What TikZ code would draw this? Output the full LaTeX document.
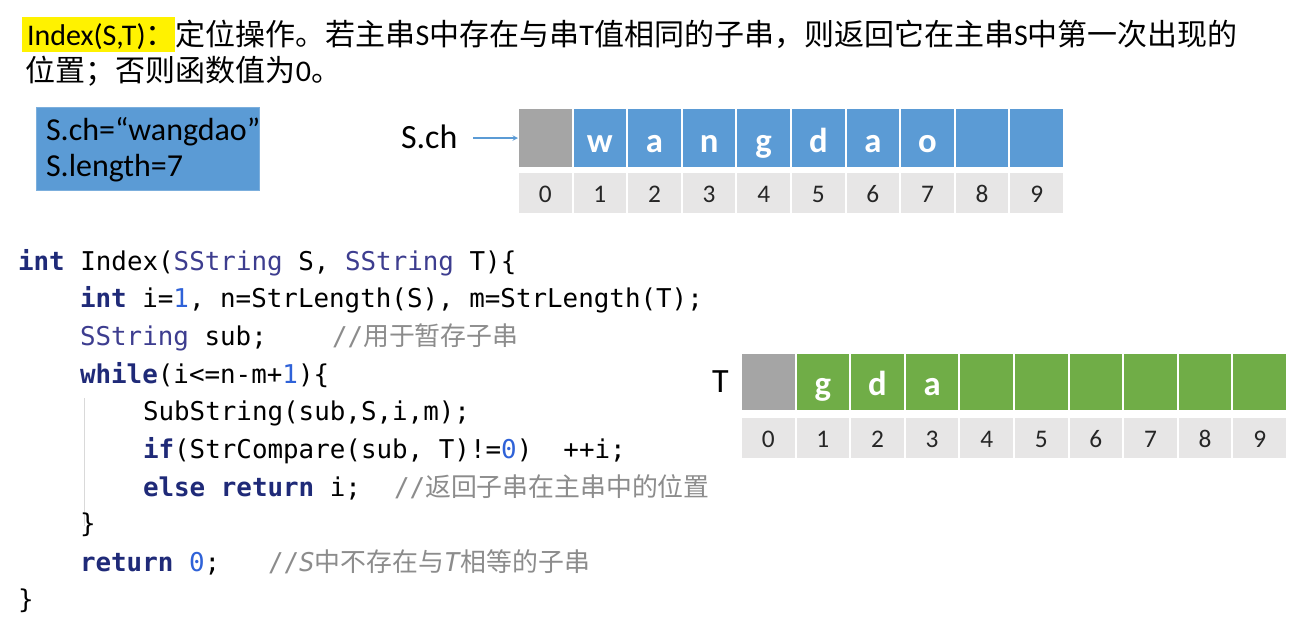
\documentclass[tikz,border=0pt]{standalone}
\usepackage{fontspec}
\setmainfont{Carlito}
\setmonofont{DejaVu Sans Mono}
\newfontfamily\cjk{Noto Sans CJK SC}
\newcommand{\zh}[1]{{\cjk #1}}
\definecolor{boxblue}{HTML}{5B9BD5}
\definecolor{cellgray}{HTML}{A5A5A5}
\definecolor{idxgray}{HTML}{E7E6E6}
\definecolor{cellgreen}{HTML}{70AD47}
\definecolor{kwc}{HTML}{1F2A78}
\definecolor{typc}{HTML}{3D3D8F}
\definecolor{numc}{HTML}{2F62D8}
\definecolor{cmtc}{HTML}{8C8C8C}
\newcommand{\kw}[1]{\textcolor{kwc}{\bfseries #1}}
\newcommand{\ty}[1]{\textcolor{typc}{#1}}
\newcommand{\nm}[1]{\textcolor{numc}{#1}}
\tikzset{
  txt/.style={anchor=base west, inner sep=0pt, outer sep=0pt},
  code/.style={txt, font=\ttfamily\fontsize{19.4}{23}\selectfont, text=black},
  cmt/.style={txt, font=\ttfamily\fontsize{19.4}{23}\selectfont, text=cmtc},
  cellbase/.style={draw=white, line width=1.5pt, inner sep=0pt, outer sep=0pt, minimum width=40.95pt},
  topcell/.style={cellbase, fill=boxblue},
  idxcell/.style={cellbase, fill=idxgray, minimum height=31.5pt},
  letter/.style={anchor=base, inner sep=0pt, text=white, font=\bfseries\fontsize{26}{30}\selectfont},
  digit/.style={anchor=base, inner sep=0pt, text=black!85, font=\fontsize{19}{22}\selectfont},
}
\begin{document}
\begin{tikzpicture}[x=0.75pt,y=-0.75pt]
\useasboundingbox (0,0) rectangle (1295,618);
\fill[white] (0,0) rectangle (1295,618);

% title
\fill[yellow] (22,17) rectangle (175,52);
\node[txt, font=\fontsize{22.5}{27}\selectfont] (title1) at (27,45)
  {Index(S,T)\zh{：定位操作。若主串}S\zh{中存在与串}T\zh{值相同的子串，则返回它在主串}S\zh{中第一次出现的}};
\node[txt, font=\fontsize{22.5}{27}\selectfont] (title2) at (26,81)
  {\zh{位置；否则函数值为}0\zh{。}};

% info box
\node[draw=boxblue!80!white, fill=boxblue, anchor=north west, minimum width=167pt, minimum height=62pt, inner sep=0pt] (info) at (36,107) {};
\node[txt, font=\fontsize{24}{28}\selectfont] (info1) at (46,140) {S.ch=“wangdao”};
\node[txt, font=\fontsize{24}{28}\selectfont] (info2) at (46,176) {S.length=7};

% S array
\node[txt, font=\fontsize{25.5}{30}\selectfont] (schlabel) at (401,148) {S.ch};
\foreach \c [count=\i from 0] in {{},w,a,n,g,d,a,o,{},{}} {
  \node[topcell, minimum height=45pt] (s\i) at ({545.3+54.6*\i},138) {};
  \node[letter] (sl\i) at ({545.3+54.6*\i},152) {\c};
  \node[idxcell] (si\i) at ({545.3+54.6*\i},193) {};
  \node[digit] (sd\i) at ({545.3+54.6*\i},202) {\i};
}
\node[cellbase, fill=cellgray, minimum height=45pt] (sg) at (s0) {};
\draw[-stealth, boxblue, line width=0.8pt] (473,138) -- (sg.west);

% T array
\node[txt, font=\fontsize{25.5}{30}\selectfont] (tlabel) at (712,392) {T};
\foreach \c [count=\i from 0] in {{},g,d,a,{},{},{},{},{},{}} {
  \node[topcell, fill=cellgreen, minimum height=43.5pt] (t\i) at ({768.3+54.6*\i},382) {};
  \node[letter] (tl\i) at ({768.3+54.6*\i},395) {\c};
  \node[idxcell] (ti\i) at ({768.3+54.6*\i},438) {};
  \node[digit] (td\i) at ({768.3+54.6*\i},447) {\i};
}
\node[cellbase, fill=cellgray, minimum height=43.5pt] (tg) at (t0) {};

% indent guide
\draw[black!15, line width=0.6pt] (84,398) -- (84,526);

% code
\node[code] (c1) at (18,270) {\kw{int} Index(\ty{SString} S, \ty{SString} T)\{};
\node[code] (c2) at (80,307) {\kw{int} i=\nm{1}, n=StrLength(S), m=StrLength(T);};
\node[code] (c3) at (80,345) {\ty{SString} sub;};
\node[cmt] (m3) at (332,345) {//\zh{用于暂存子串}};
\node[code] (c4) at (80,383) {\kw{while}(i<=n-m+\nm{1})\{};
\node[code] (c5) at (143,420) {SubString(sub,S,i,m);};
\node[code] (c6) at (143,458) {\kw{if}(StrCompare(sub, T)!=\nm{0})~~++i;};
\node[code] (c7) at (143,496) {\kw{else} \kw{return} i;};
\node[cmt] (m7) at (394,496) {//\zh{返回子串在主串中的位置}};
\node[code] (c8) at (80,532) {\}};
\node[code] (c9) at (80,571) {\kw{return} \nm{0};};
\node[cmt] (m9) at (268,571) {//\textit{S}\zh{中不存在与}\textit{T}\zh{相等的子串}};
\node[code] (c10) at (18,608) {\}};
\end{tikzpicture}
\end{document}
